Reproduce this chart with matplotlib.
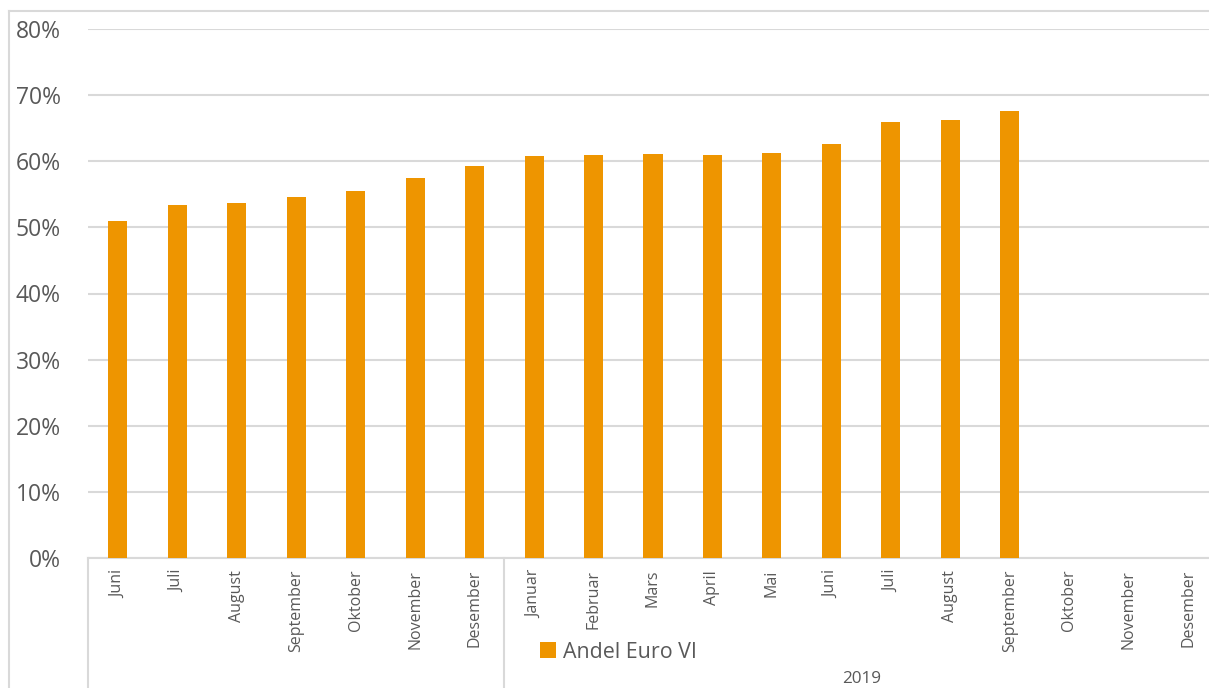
import numpy as np
import matplotlib
matplotlib.use("Agg")
import matplotlib.pyplot as plt
from matplotlib.lines import Line2D
from matplotlib.patches import Patch
from matplotlib.ticker import FuncFormatter
import matplotlib.transforms as mtransforms

plt.rcParams["font.family"] = ["Open Sans", "DejaVu Sans"]

months_2018 = ["Juni", "Juli", "August", "September", "Oktober", "November", "Desember"]
months_2019 = ["Januar", "Februar", "Mars", "April", "Mai", "Juni", "Juli", "August",
               "September", "Oktober", "November", "Desember"]
share_2018 = [51.0, 53.4, 53.7, 54.6, 55.5, 57.5, 59.3]
share_2019 = [60.8, 60.9, 61.1, 60.9, 61.2, 62.6, 66.0, 66.3, 67.6]
series_name = "Andel Euro VI"
group_label = "2019"

ORANGE = "#EE9500"
GRID = "#D9D9D9"
TEXT = "#595959"

labels = months_2018 + months_2019
values = share_2018 + share_2019
x = np.arange(len(labels))

W, H = 1209, 688
fig = plt.figure(figsize=(W / 100, H / 100), dpi=100)
ax = fig.add_axes([88 / W, 130 / H, 1130 / W, 529 / H])

ax.bar(x[:len(values)], values, width=0.32, color=ORANGE, zorder=3)

ax.set_xlim(-0.5, len(labels) - 0.5)
ax.set_ylim(0, 80)
ax.set_yticks(np.arange(0, 81, 10))
ax.yaxis.set_major_formatter(FuncFormatter(lambda v, _: f"{v:.0f}%"))
ax.grid(axis="y", color=GRID, linewidth=1.5, zorder=0)
ax.tick_params(axis="y", length=0, pad=19.5, labelsize=16.5, labelcolor=TEXT)

ax.set_xticks(x)
ax.set_xticklabels(labels, rotation=90, va="top", ha="center")
ax.tick_params(axis="x", length=0, pad=8.5, labelsize=11.5, labelcolor=TEXT)

for s in ["top", "right", "left"]:
    ax.spines[s].set_visible(False)
ax.spines["bottom"].set_color(GRID)
ax.spines["bottom"].set_linewidth(1.5)

# group separators below the category axis
trans = mtransforms.blended_transform_factory(ax.transData, ax.transAxes)
for xs in [-0.5, len(months_2018) - 0.5]:
    ax.add_line(Line2D([xs, xs], [0, -140 / 529], transform=trans, color=GRID,
                       linewidth=1.5, clip_on=False))

ax.text((len(months_2018) - 0.5 + len(labels) - 0.5) / 2, -121 / 529, group_label,
        transform=trans, ha="center", va="center", fontsize=12.3, color=TEXT)

# outer chart border
fig.add_artist(Line2D([9 / W, 9 / W], [0, 1 - 11 / H], color=GRID, linewidth=1.5))
fig.add_artist(Line2D([9 / W, 1], [1 - 11 / H, 1 - 11 / H], color=GRID, linewidth=1.5))

fig.legend(handles=[Patch(facecolor=ORANGE, edgecolor="none", label=series_name)],
           loc="center left", bbox_to_anchor=(529 / W, 1 - 652 / H), frameon=False,
           borderpad=0, handlelength=0.75, handleheight=0.75, handletextpad=0.35,
           fontsize=15.4, labelcolor=TEXT)

fig.savefig("out.png", dpi=100)
